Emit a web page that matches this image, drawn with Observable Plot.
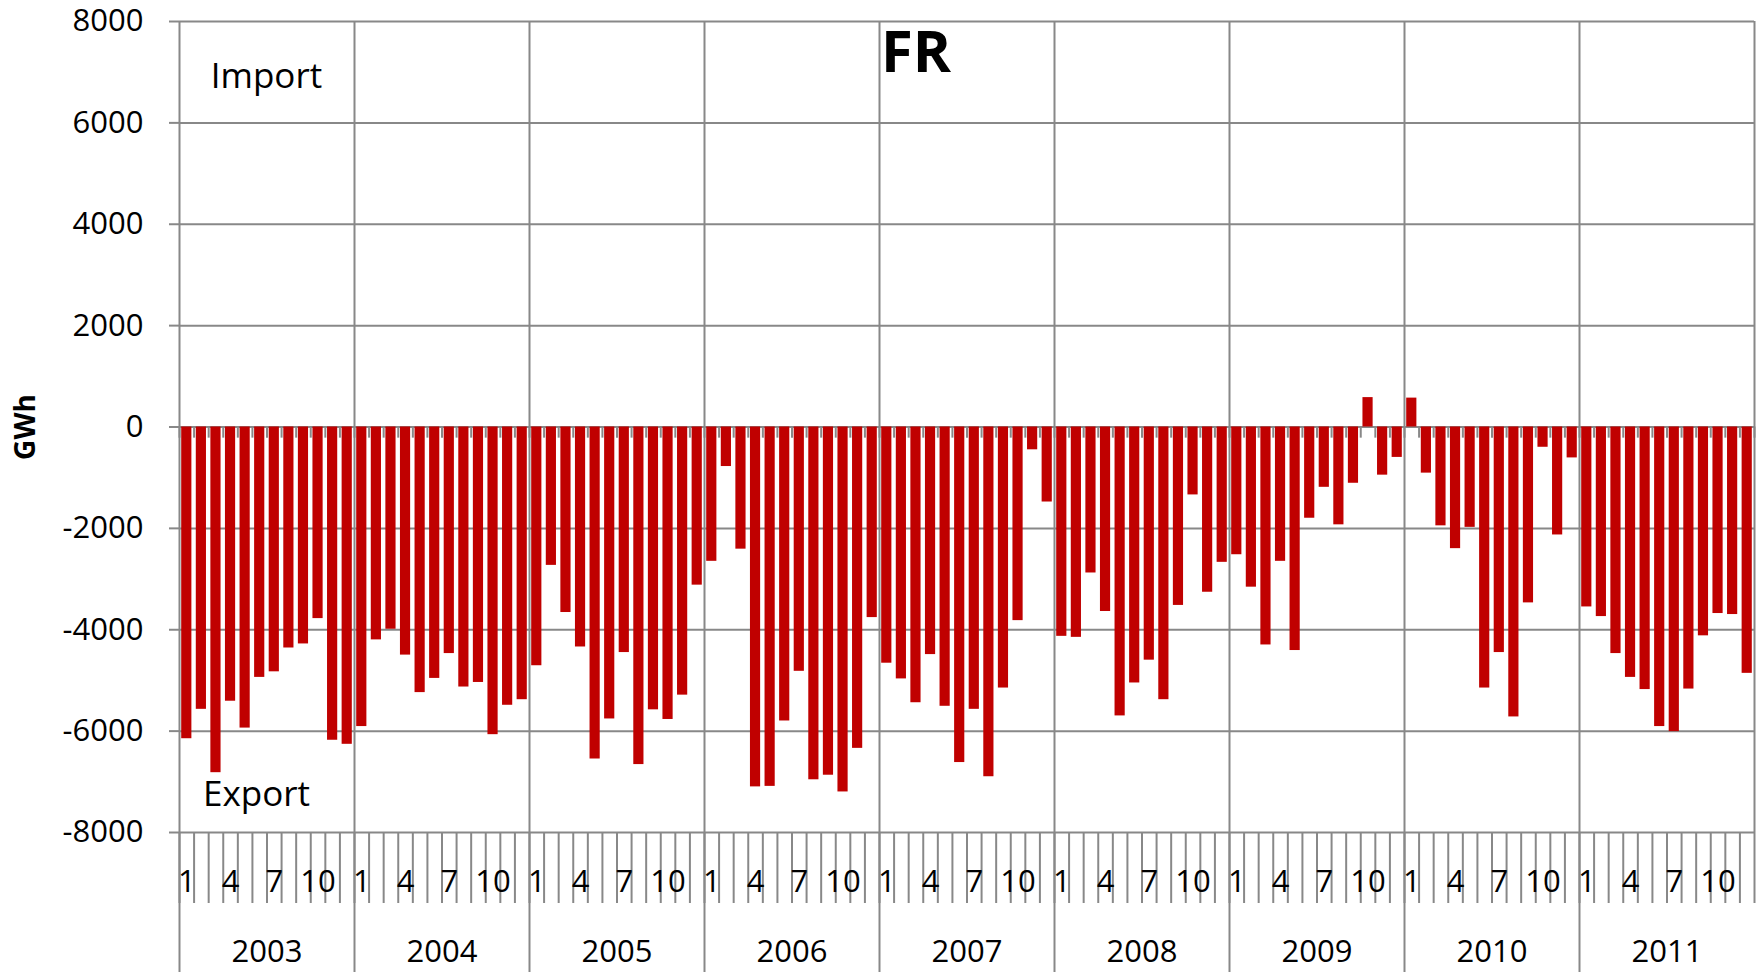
<!DOCTYPE html>
<html>
<head>
<meta charset="utf-8">
<script src="https://cdn.jsdelivr.net/npm/d3@7"></script>
<script src="https://cdn.jsdelivr.net/npm/@observablehq/plot@0.6"></script>
<style>
  html, body { margin: 0; padding: 0; background: #fff; }
  #chart svg { display: block; }
</style>
</head>
<body>
<div id="chart"></div>
<script>
// ---- data (GWh, monthly net exchange; negative = export) ----
const years = [2003, 2004, 2005, 2006, 2007, 2008, 2009, 2010, 2011];
const monthTickLabels = [1, 4, 7, 10];
const yTicks = [-8000, -6000, -4000, -2000, 0, 2000, 4000, 6000, 8000];

const fr2003 = [-6150, -5570, -6820, -5410, -5940, -4940, -4830, -4360, -4280, -3780, -6180, -6260];
const fr2004 = [-5910, -4200, -3990, -4500, -5240, -4960, -4470, -5130, -5040, -6070, -5490, -5380];
const fr2005 = [-4710, -2730, -3660, -4340, -6550, -5760, -4450, -6660, -5580, -5770, -5290, -3120];
const fr2006 = [-2650, -780, -2410, -7100, -7090, -5800, -4820, -6960, -6870, -7200, -6340, -3760];
const fr2007 = [-4660, -4970, -5440, -4490, -5510, -6620, -5570, -6900, -5150, -3820, -450, -1480];
const fr2008 = [-4130, -4150, -2880, -3640, -5700, -5050, -4600, -5380, -3520, -1340, -3260, -2670];
const fr2009 = [-2520, -3160, -4300, -2650, -4410, -1800, -1190, -1930, -1110, 580, -950, -600];
const fr2010 = [570, -910, -1950, -2400, -1980, -5150, -4450, -5720, -3470, -400, -2130, -610];
const fr2011 = [-3550, -3740, -4470, -4940, -5180, -5910, -6010, -5170, -4120, -3680, -3700, -4860];

const title = "FR";
const yLabel = "GWh";
const importLabel = "Import";
const exportLabel = "Export";

// ---- build table ----
const seriesByYear = [fr2003, fr2004, fr2005, fr2006, fr2007, fr2008, fr2009, fr2010, fr2011];
const rows = [];
years.forEach((yr, k) => seriesByYear[k].forEach((v, m) => {
  rows.push({i: k * 12 + m, year: yr, month: m + 1, value: v});
}));
const n = rows.length;
const boundaries = d3.range(0, n + 1);
const yearStarts = d3.range(0, n, 12);
const yearLines = d3.range(0, n + 1, 12);
const monthLabelPos = rows.filter(d => monthTickLabels.includes(d.month)).map(d => d.i + 0.5);
const yearLabelPos = yearStarts.map(i => i + 6);

const font = "'Open Sans', 'Noto Sans', sans-serif";
const grid = "#888888";
const barColor = "#C00000";

const chart = Plot.plot({
  width: 1758,
  height: 972,
  marginLeft: 179,
  marginRight: 4,
  marginTop: 21,
  marginBottom: 140,
  style: {fontFamily: font, background: "#ffffff", color: "#000000", overflow: "visible"},
  x: {type: "linear", domain: [0, n], axis: null},
  y: {domain: [-8000, 8000], axis: null},
  marks: [
    // horizontal gridlines
    Plot.gridY(yTicks, {stroke: grid, strokeOpacity: 1, strokeWidth: 2}),
    // vertical year gridlines
    Plot.ruleX(yearLines, {stroke: grid, strokeWidth: 2}),
    // small category ticks on the zero line
    Plot.ruleX(boundaries, {y1: 0, y2: -220, stroke: grid, strokeWidth: 2}),
    // bars
    Plot.rect(rows, {
      x1: "i", x2: d => d.i + 1, y1: 0, y2: "value",
      insetLeft: 2.2, insetRight: 2.2, fill: barColor
    }),
    // y axis
    Plot.axisY(yTicks, {
      anchor: "left", tickSize: 10, tickPadding: 26, stroke: grid, strokeWidth: 2, strokeOpacity: 1,
      fill: "#000", fontSize: 31, label: null, tickFormat: d => String(d)
    }),
    // month boundary ticks below the plot
    Plot.axisX(boundaries, {
      anchor: "bottom", tickSize: 71, tickFormat: () => "", stroke: grid, strokeWidth: 2,
      strokeOpacity: 1, label: null
    }),
    // year separators below the plot
    Plot.axisX(yearStarts, {
      anchor: "bottom", tickSize: 140, tickFormat: () => "", stroke: grid, strokeWidth: 2,
      strokeOpacity: 1, label: null
    }),
    // month labels
    Plot.axisX(monthLabelPos, {
      anchor: "bottom", tickSize: 0, tickPadding: 37, fill: "#000", fontSize: 31, label: null,
      tickFormat: v => String(rows[Math.floor(v)].month)
    }),
    // year labels
    Plot.axisX(yearLabelPos, {
      anchor: "bottom", tickSize: 0, tickPadding: 107, fill: "#000", fontSize: 31, label: null,
      tickFormat: v => String(rows[Math.floor(v)].year)
    }),
    // annotations
    Plot.text([title], {
      frameAnchor: "top", dx: -51, dy: 9, textAnchor: "middle", lineAnchor: "top",
      fontSize: 58, fontWeight: "bold", fill: "#000"
    }),
    Plot.text([importLabel], {
      frameAnchor: "top-left", dx: 87, dy: 55, textAnchor: "middle", lineAnchor: "middle",
      fontSize: 35, fill: "#000"
    }),
    Plot.text([exportLabel], {
      frameAnchor: "bottom-left", dx: 77, dy: -38, textAnchor: "middle", lineAnchor: "middle",
      fontSize: 35, fill: "#000"
    }),
    Plot.text([yLabel], {
      frameAnchor: "left", dx: -153, rotate: -90, textAnchor: "middle", lineAnchor: "middle",
      fontSize: 28, fontWeight: "bold", fill: "#000"
    })
  ]
});

document.getElementById("chart").appendChild(chart);
</script>
</body>
</html>
